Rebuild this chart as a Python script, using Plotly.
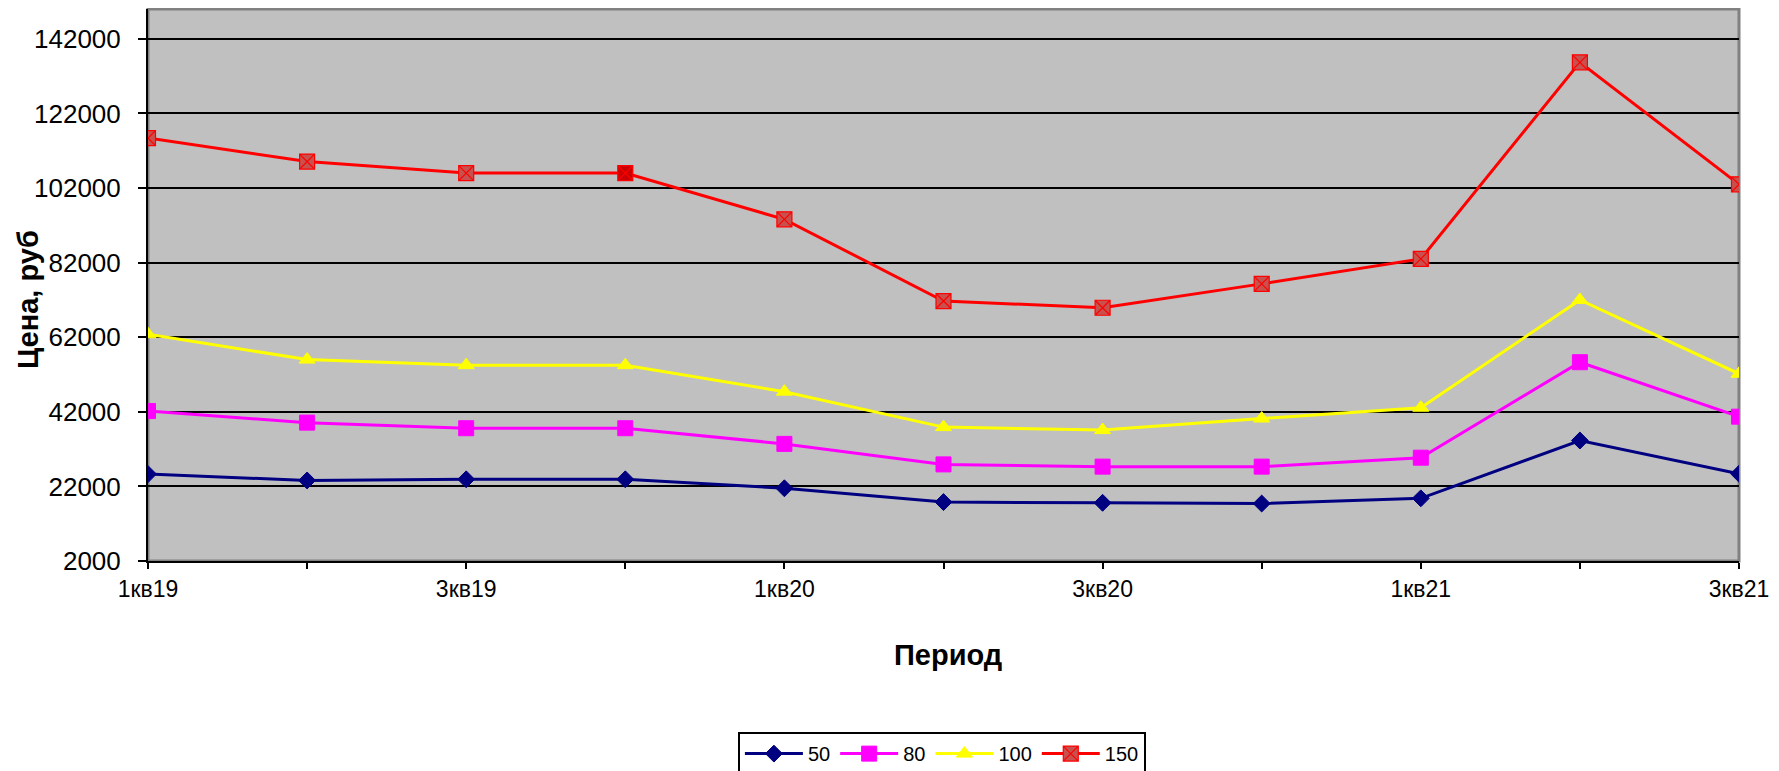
import plotly.graph_objects as go

categories = ["1кв19", "2кв19", "3кв19", "4кв19", "1кв20", "2кв20",
              "3кв20", "4кв20", "1кв21", "2кв21", "3кв21"]
s50 = [25300, 23600, 23900, 23900, 21500, 17800, 17600, 17400, 18800, 34300, 25400]
s80 = [42200, 39100, 37600, 37600, 33400, 27900, 27300, 27300, 29700, 55300, 40700]
s100 = [62800, 56000, 54500, 54500, 47400, 37900, 37100, 40200, 43100, 72000, 52200]
s150 = [115400, 109100, 106000, 106000, 93600, 71700, 69900, 76300, 83000, 135700, 103000]
y_ticks = [2000, 22000, 42000, 62000, 82000, 102000, 122000, 142000]

FONT = "Arial, 'Liberation Sans', sans-serif"

fig = go.Figure()
fig.add_trace(go.Scatter(x=categories, y=s50, name="50", mode="lines+markers",
                         line=dict(color="#000080", width=3),
                         marker=dict(symbol="diamond", size=13, color="#000080",
                                     line=dict(color="#000080", width=1))))
fig.add_trace(go.Scatter(x=categories, y=s80, name="80", mode="lines+markers",
                         line=dict(color="#FF00FF", width=3),
                         marker=dict(symbol="square", size=15, color="#FF00FF",
                                     line=dict(color="#FF00FF", width=1))))
fig.add_trace(go.Scatter(x=categories, y=s100, name="100", mode="lines+markers",
                         line=dict(color="#FFFF00", width=3),
                         marker=dict(symbol="triangle-up", size=14, color="#FFFF00",
                                     line=dict(color="#FFFF00", width=1))))
red_fill = ["#C8504D"] * len(categories)
red_fill[3] = "#CC0000"
fig.add_trace(go.Scatter(x=categories, y=s150, name="150", mode="lines+markers",
                         line=dict(color="#FF0000", width=3),
                         marker=dict(symbol="square-x", size=15, color=red_fill,
                                     line=dict(color="#FF0000", width=1.2))))

ticktext = [c if i % 2 == 0 else "" for i, c in enumerate(categories)]

# page body has an 8px margin: the figure is shrunk/shifted to compensate
fig.update_layout(
    width=1771, height=763,
    margin=dict(l=140, r=40, t=1, b=210, autoexpand=False),
    paper_bgcolor="white",
    plot_bgcolor="#C0C0C0",
    font=dict(family=FONT, color="black"),
    showlegend=True,
    legend=dict(orientation="h", x=0.499, xanchor="center", y=-0.31, yanchor="top",
                bordercolor="black", borderwidth=2, bgcolor="white",
                font=dict(size=20, family=FONT), itemwidth=58,
                traceorder="normal"),
    xaxis=dict(type="category", range=[0, len(categories) - 1], automargin=False,
               tickmode="array", tickvals=categories, ticktext=ticktext,
               ticks="outside", ticklen=6, tickwidth=2, tickcolor="black",
               showline=True, linecolor="black", linewidth=2,
               showgrid=False, zeroline=False,
               tickfont=dict(size=23, family=FONT)),
    yaxis=dict(range=[2000, 150000], tickmode="array", tickvals=y_ticks, automargin=False,
               ticks="outside", ticklen=8, tickwidth=2, tickcolor="black",
               showline=True, linecolor="black", linewidth=2,
               showgrid=True, gridcolor="black", gridwidth=2, zeroline=False,
               tickfont=dict(size=26, family=FONT), ticklabelstandoff=12,
               tickformat="d"),
    shapes=[dict(type="rect", xref="paper", yref="paper", x0=0, x1=1, y0=0, y1=1,
                 line=dict(color="#808080", width=3), fillcolor="rgba(0,0,0,0)",
                 layer="below")],
    annotations=[
        dict(text="<b>Период</b>", xref="paper", yref="paper", x=0.503, y=-0.170,
             xanchor="center", yanchor="middle", showarrow=False,
             font=dict(size=29, family=FONT)),
        dict(text="<b>Цена, руб</b>", xref="paper", yref="paper", x=-0.0754, y=0.473,
             xanchor="center", yanchor="middle", showarrow=False, textangle=-90,
             font=dict(size=29, family=FONT)),
    ],
)

fig.write_html("out.html")
